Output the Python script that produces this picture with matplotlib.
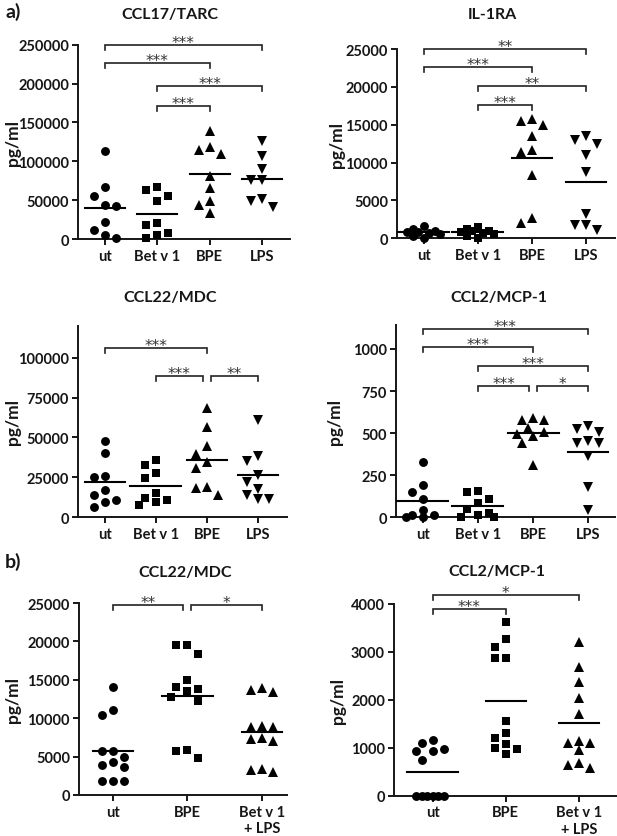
import matplotlib
matplotlib.use("Agg")
import matplotlib.pyplot as plt
import numpy as np

# ---------------- data ----------------
groups_a = ["ut", "Bet v 1", "BPE", "LPS"]
groups_b = ["ut", "BPE", "Bet v 1\n+ LPS"]

ccl17_ut = [113000, 66500, 55700, 44000, 42900, 22000, 12000, 5600, 1000]
ccl17_betv1 = [66500, 63500, 55700, 48500, 20000, 18400, 7300, 5600, 1000]
ccl17_bpe = [139000, 118000, 115000, 109000, 81000, 66000, 48500, 44000, 34000]
ccl17_lps = [126500, 107000, 90000, 76000, 76000, 51500, 48500, 40700]

il1ra_ut = [1650, 1200, 1000, 850, 800, 700, 600, 300, 0]
il1ra_betv1 = [1500, 1200, 1000, 900, 800, 700, 600, 300, 100]
il1ra_bpe = [15800, 15500, 14900, 13500, 11600, 11400, 8300, 2700, 2000]
il1ra_lps = [13500, 13000, 12500, 11000, 8800, 3200, 1800, 1800, 1100]

ccl22a_ut = [47700, 40400, 25700, 25100, 17200, 14000, 11100, 9400, 6700]
ccl22a_betv1 = [36000, 32800, 27600, 24500, 15100, 11900, 10900, 9400, 7700]
ccl22a_bpe = [68400, 56500, 44600, 39500, 34500, 30800, 18800, 18400, 14000]
ccl22a_lps = [60700, 38700, 35000, 26600, 22400, 17800, 14000, 11500, 11500]

mcp1a_ut = [327, 194, 152, 109, 43, 14, 14, 4, 2]
mcp1a_betv1 = [158, 148, 109, 83, 49, 26, 14, 2, 2]
mcp1a_bpe = [588, 580, 580, 529, 505, 495, 485, 442, 311]
mcp1a_lps = [540, 524, 505, 451, 441, 440, 362, 178, 45]

ccl22b_ut = [14000, 11100, 10400, 5700, 5700, 5000, 4300, 3900, 3600, 1800, 1800, 1800]
ccl22b_bpe = [19500, 19500, 18400, 15000, 14000, 13800, 13500, 12800, 12300, 5900, 5700, 4800]
ccl22b_betlps = [13900, 13700, 13400, 9000, 8900, 8800, 7400, 7300, 7000, 3400, 3250, 2950]

mcp1b_ut = [1162, 1092, 974, 925, 925, 744, 0, 0, 0, 0, 0, 0]
mcp1b_bpe = [3617, 3270, 3096, 2866, 2866, 1551, 1301, 1197, 1078, 988, 974, 870]
mcp1b_betlps = [3214, 2692, 2365, 2038, 1704, 1148, 1099, 1099, 953, 682, 647, 570]

# significance brackets: (group i, group j, level, label)
sig_ccl17 = [(0, 3, 250000, "***"), (0, 2, 226000, "***"), (1, 3, 197000, "***"), (1, 2, 171000, "***")]
sig_il1ra = [(0, 3, 25000, "**"), (0, 2, 22600, "***"), (1, 3, 20100, "**"), (1, 2, 17600, "***")]
sig_ccl22a = [(0, 2, 106000, "***"), (1, 2, 88500, "***"), (2, 3, 88500, "**")]
sig_mcp1a = [(0, 3, 1119, "***"), (0, 2, 1010, "***"), (1, 3, 901, "***"), (1, 2, 778, "***"), (2, 3, 778, "*")]
sig_ccl22b = [(0, 1, 24800, "**"), (1, 2, 24800, "*")]
sig_mcp1b = [(0, 2, 4188, "*"), (0, 1, 3896, "***")]

# ---------------- style ----------------
W, H = 617, 837
FONT = "Lato"
plt.rcParams["font.family"] = [FONT, "DejaVu Sans"]
plt.rcParams["font.weight"] = "bold"
fig = plt.figure(figsize=(W / 100, H / 100), dpi=100)
INK = "#161616"


def fx(px):
    return px / W


def fy(py):
    return 1 - py / H


def make_axes(left, right, top, bottom):
    return fig.add_axes([fx(left), fy(bottom), (right - left) / W, (bottom - top) / H])


MARKERS = {"o": 6.4, "s": 6.0, "^": 6.8, "v": 6.8}


def swarm(ax, xpos, vals, d=10.0, step=11.0):
    vals = np.asarray(vals, dtype=float)
    pts = ax.transData.transform(np.column_stack([np.full(len(vals), xpos), vals]))
    order = np.argsort(-vals, kind="stable")
    cands = [0, -1, 1, -0.5, 0.5, -1.5, 1.5]
    placed = []
    offs = np.zeros(len(vals))
    for idx in order:
        y = pts[idx, 1]
        best, best_d = 0.0, -1.0
        for k in cands:
            ox = k * step
            md = min([np.hypot(ox - px, y - py) for px, py in placed], default=1e9)
            if md >= d:
                best = ox
                break
            if md > best_d + 1e-6:
                best, best_d = ox, md
        offs[idx] = best
        placed.append((best, y))
    ppu = ax.transData.transform((1, 0))[0] - ax.transData.transform((0, 0))[0]
    return xpos + offs / ppu, offs, ppu


def draw_panel(ax, groups, series, markers, sigs, ylim, yticks, xlim, title, title_xy, ylabel_x):
    ax.set_xlim(*xlim)
    ax.set_ylim(*ylim)
    for sp in ["top", "right"]:
        ax.spines[sp].set_visible(False)
    for sp in ["left", "bottom"]:
        ax.spines[sp].set_linewidth(1.4)
        ax.spines[sp].set_color(INK)
    ax.set_yticks(yticks)
    ax.set_yticklabels([str(int(t)) for t in yticks], fontsize=10.5, fontweight="bold", fontfamily=FONT,
                       color=INK)
    ax.set_xticks(range(len(groups)))
    ax.set_xticklabels(groups, fontsize=10.5, fontweight="bold", fontfamily=FONT, linespacing=1.2,
                       color=INK)
    ax.tick_params(axis="both", direction="out", length=4.5, width=1.4, color=INK, pad=2)
    ax.tick_params(axis="x", pad=2.5)
    for i, (vals, m) in enumerate(zip(series, markers)):
        xs, offs, ppu = swarm(ax, i, vals)
        ax.plot(xs, vals, linestyle="none", marker=m, markersize=MARKERS[m], color="black",
                markeredgewidth=0, clip_on=False, zorder=3)
        half = (np.max(np.abs(offs)) + 9) / ppu
        mval = np.mean(vals)
        ax.plot([i - half, i + half], [mval, mval], color="black", lw=1.5, zorder=4, clip_on=False)
    # brackets
    ypp = ax.transData.transform((0, 1))[1] - ax.transData.transform((0, 0))[1]
    xppu = ax.transData.transform((1, 0))[0] - ax.transData.transform((0, 0))[0]
    hook = 5.0 / ypp
    for (i, j, lev, lab) in sigs:
        x1, x2 = float(i), float(j)
        for (a, b, l2, _) in sigs:
            if l2 == lev and (a, b) != (i, j):
                if a == j:
                    x2 -= 4.0 / xppu
                if b == i:
                    x1 += 4.0 / xppu
        ax.plot([x1, x1, x2, x2], [lev - hook, lev, lev, lev - hook], color="#222222", lw=1.2,
                clip_on=False, zorder=2, solid_joinstyle="miter")
        ax.text((x1 + x2) / 2, lev - 2.0 / ypp, lab, ha="center", va="baseline", fontsize=11,
                fontfamily="DejaVu Sans", fontweight="normal", color="#333333", clip_on=False)
    fig.text(fx(title_xy[0]), fy(title_xy[1]), title, ha="center", va="center", fontsize=11.5,
             fontweight="bold", fontfamily=FONT, color=INK)
    pos = ax.get_position()
    fig.text(fx(ylabel_x), pos.y0 + pos.height / 2, "pg/ml", rotation=90, ha="center", va="center",
             fontsize=12.5, fontweight="bold", fontfamily=FONT, color=INK)


mk_a = ["o", "s", "^", "v"]
mk_b = ["o", "s", "^"]

ax1 = make_axes(78, 290, 45.7, 240)
draw_panel(ax1, groups_a, [ccl17_ut, ccl17_betv1, ccl17_bpe, ccl17_lps], mk_a, sig_ccl17,
           (0, 250000), np.arange(0, 250001, 50000), (-0.51, 3.53), "CCL17/TARC", (170, 15), 13)

ax2 = make_axes(397, 615, 50, 239.3)
draw_panel(ax2, groups_a, [il1ra_ut, il1ra_betv1, il1ra_bpe, il1ra_lps], mk_a, sig_il1ra,
           (0, 25000), np.arange(0, 25001, 5000), (-0.5, 3.54), "IL-1RA", (492, 15), 337)

ax3 = make_axes(78, 287, 326.7, 518.3)
draw_panel(ax3, groups_a, [ccl22a_ut, ccl22a_betv1, ccl22a_bpe, ccl22a_lps], mk_a, sig_ccl22a,
           (0, 120000), np.arange(0, 100001, 25000), (-0.53, 3.57), "CCL22/MDC", (170, 298), 13)

ax4 = make_axes(396, 615, 326.4, 518.3)
draw_panel(ax4, groups_a, [mcp1a_ut, mcp1a_betv1, mcp1a_bpe, mcp1a_lps], mk_a, sig_mcp1a,
           (0, 1140), np.arange(0, 1001, 250), (-0.49, 3.49), "CCL2/MCP-1", (499, 298), 335)

ax5 = make_axes(79, 287, 604, 796)
draw_panel(ax5, groups_b, [ccl22b_ut, ccl22b_bpe, ccl22b_betlps], mk_b, sig_ccl22b,
           (0, 25000), np.arange(0, 25001, 5000), (-0.46, 2.34), "CCL22/MDC", (185, 573), 13)

ax6 = make_axes(394, 617, 605, 796.7)
draw_panel(ax6, groups_b, [mcp1b_ut, mcp1b_bpe, mcp1b_betlps], mk_b, sig_mcp1b,
           (0, 4000), np.arange(0, 4001, 1000), (-0.53, 2.52), "CCL2/MCP-1", (497, 572), 338)

fig.text(fx(5), fy(12), "a)", ha="left", va="center", fontsize=14, fontweight="bold", fontfamily=FONT,
         color=INK)
fig.text(fx(5), fy(562), "b)", ha="left", va="center", fontsize=14, fontweight="bold", fontfamily=FONT,
         color=INK)

fig.savefig("out.png", dpi=100)
